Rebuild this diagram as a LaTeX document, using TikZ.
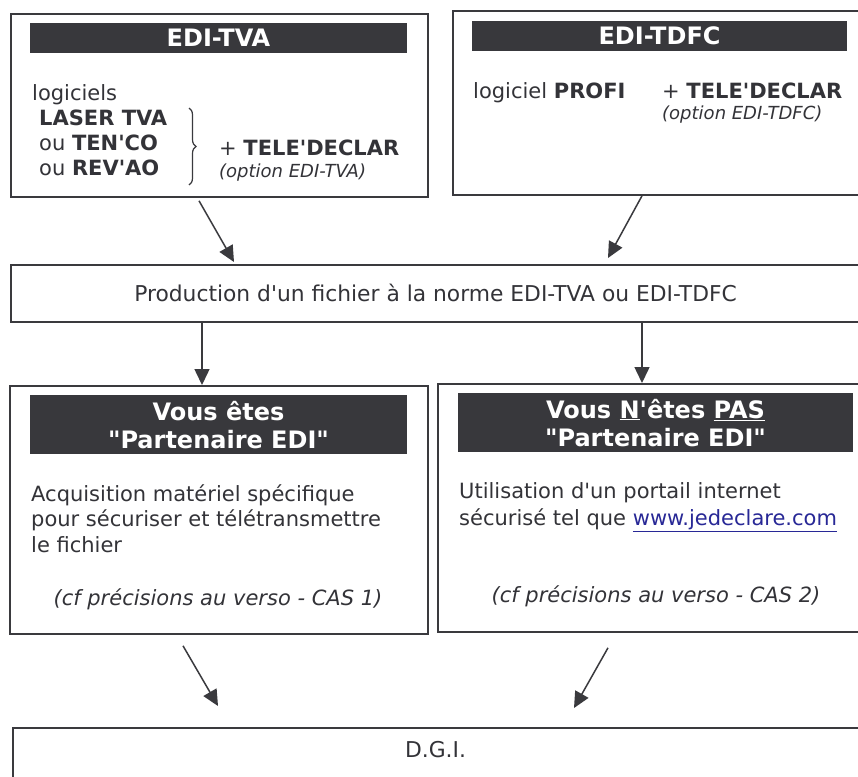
\documentclass[tikz,border=0pt]{standalone}
\usepackage{fontspec}
\newfontfamily\dv{DejaVu Sans}
\usetikzlibrary{arrows.meta,decorations.pathreplacing,calc}
\definecolor{txt}{RGB}{51,51,56}
\definecolor{bord}{RGB}{58,58,62}
\definecolor{hdr}{RGB}{56,56,60}
\definecolor{link}{RGB}{40,40,150}
\begin{document}
\begin{tikzpicture}[x=1pt,y=1pt,
  box/.style={draw=bord, line width=1.8pt, rectangle, inner sep=0pt, anchor=north west},
  hbar/.style={fill=hdr, rectangle, inner sep=0pt, anchor=north west},
  htext/.style={text=white, font=\dv\fontsize{24}{28}\selectfont\bfseries, anchor=base, inner sep=0pt},
  body/.style={text=txt, font=\dv\fontsize{21}{25}\selectfont, anchor=base west, inner sep=0pt},
  opt/.style={text=txt, font=\dv\fontsize{18}{22}\selectfont\itshape, anchor=base west, inner sep=0pt},
  cas/.style={text=txt, font=\dv\fontsize{21}{25}\selectfont\itshape, anchor=base, inner sep=0pt},
  ctext/.style={text=txt, font=\dv\fontsize{21.8}{25}\selectfont, anchor=center, inner sep=0pt},
  conn/.style={draw=bord, line width=1.5pt, -{Triangle[length=16pt,width=15pt]}}
]
\useasboundingbox (0,0) rectangle (858,-776);
\clip (0,0) rectangle (858,-776);
\fill[white] (0,0) rectangle (858,-776);

% boxes
\node[box, minimum width=417pt, minimum height=183pt] (b1) at (10,-13) {};
\node[box, minimum width=430pt, minimum height=184pt] (b2) at (452,-10) {};
\node[box, minimum width=872pt, minimum height=57pt] (b3) at (10,-264) {};
\node[box, minimum width=418pt, minimum height=248pt] (b4) at (9,-385) {};
\node[box, minimum width=445pt, minimum height=248pt] (b5) at (437,-383) {};
\node[box, minimum width=870pt, minimum height=80pt] (b6) at (12,-727) {};

% header bars
\node[hbar, minimum width=377pt, minimum height=30pt] (h1) at (30,-23) {};
\node[hbar, minimum width=375pt, minimum height=30pt] (h2) at (472,-21) {};
\node[hbar, minimum width=377pt, minimum height=59pt] (h4) at (30,-395) {};
\node[hbar, minimum width=395pt, minimum height=59pt] (h5) at (458,-393) {};

\node[htext] (t1) at (218.5,-46.5) {EDI-TVA};
\node[htext] (t2) at (659.5,-44.5) {EDI-TDFC};
\node[htext] (t4a) at (218.5,-420) {Vous êtes};
\node[htext] (t4b) at (218.5,-448) {"Partenaire EDI"};
\node[htext] (t5a) at (655.5,-418) {Vous \underline{N}'êtes \underline{PAS}};
\node[htext] (t5b) at (655.5,-446.5) {"Partenaire EDI"};

% box 1 content
\node[body] (l1) at (32,-100) {logiciels};
\node[body] (l2) at (39,-125) {\bfseries LASER TVA};
\node[body] (l3) at (39,-150) {ou \textbf{TEN'CO}};
\node[body] (l4) at (39,-175) {ou \textbf{REV'AO}};
\draw[bord, line width=1.2pt, decorate, decoration={brace, amplitude=7pt}] (189,-108) -- (189,-185);
\node[body] (l5) at (219,-155) {+ \textbf{TELE'DECLAR}};
\node[opt] (l6) at (219,-177) {(option EDI-TVA)};

% box 2 content
\node[body] (r1) at (473,-98) {logiciel \textbf{PROFI}};
\node[body] (r2) at (662,-98) {+ \textbf{TELE'DECLAR}};
\node[opt] (r3) at (662,-119) {(option EDI-TDFC)};

% box 3
\node[ctext] (p1) at (435.5,-292.5) {Production d'un fichier à la norme EDI-TVA ou EDI-TDFC};

% box 4
\node[body] (c1) at (31,-501) {Acquisition matériel spécifique};
\node[body] (c2) at (31,-526) {pour sécuriser et télétransmettre};
\node[body] (c3) at (31,-552) {le fichier};
\node[cas] (c4) at (218,-605) {(cf précisions au verso - CAS 1)};

% box 5
\node[body] (d1) at (459,-498) {Utilisation d'un portail internet};
\node[body] (d2) at (459,-525) {sécurisé tel que {\color{link}\underline{www.jedeclare.com}}};
\node[cas] (d3) at (656,-602) {(cf précisions au verso - CAS 2)};

% box 6
\node[ctext] (g1) at (435.5,-750) {D.G.I.};

% connectors
\draw[conn] ($(b1.south west)+(189,-3)$) -- ($(b3.north west)+(224,2)$);
\draw[conn] ($(b2.south west)+(190,0)$) -- ($(b3.north west)+(598,6)$);
\draw[conn] ($(b3.south west)+(192,0)$) -- ($(b4.north west)+(193,0)$);
\draw[conn] ($(b3.south west)+(632,0)$) -- ($(b5.north west)+(205,0)$);
\draw[conn] ($(b4.south west)+(174,-11)$) -- ($(b6.north west)+(206,21)$);
\draw[conn] ($(b5.south west)+(171,-15)$) -- ($(b6.north west)+(562,19)$);
\end{tikzpicture}
\end{document}
